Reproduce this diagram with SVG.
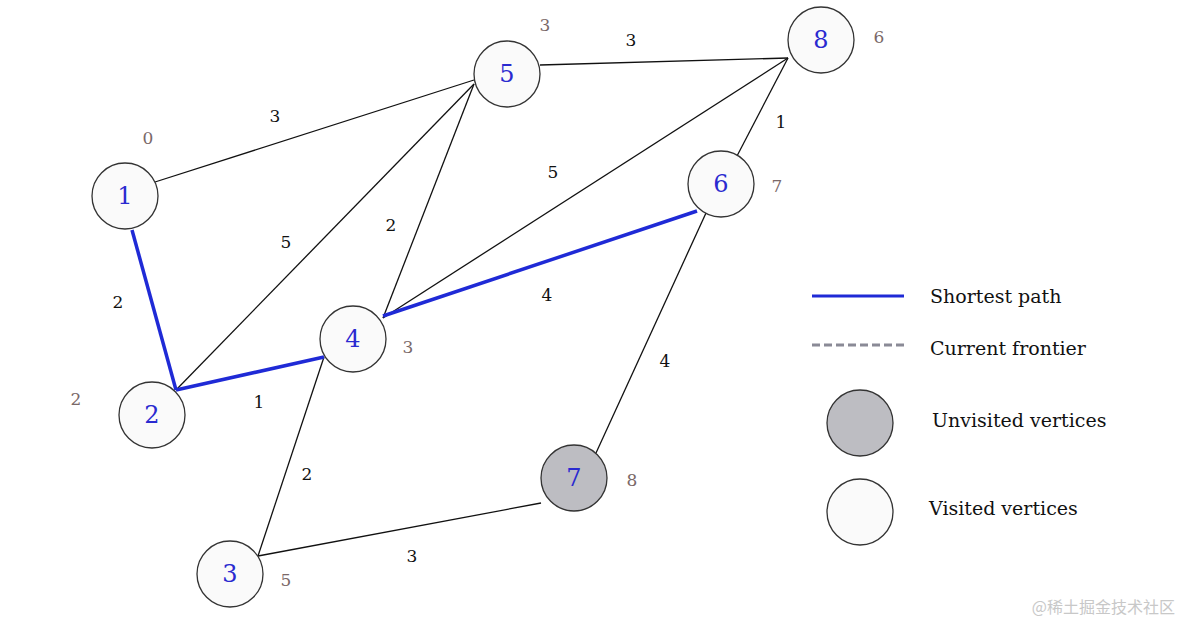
<svg xmlns="http://www.w3.org/2000/svg" width="1181" height="624" viewBox="0 0 1181 624">
<style>
.e{stroke:#111;stroke-width:1.3;fill:none}
.p{stroke:#1f2ad6;stroke-width:3.5;fill:none}
.n{fill:#fafafa;stroke:#333;stroke-width:1.3}
.g{fill:#bdbdc2;stroke:#333;stroke-width:1.3}
.t{font-family:"DejaVu Serif","Liberation Serif",serif;font-size:24px;fill:#2a2ad0;text-anchor:middle}
.w{font-family:"DejaVu Serif","Liberation Serif",serif;font-size:17px;fill:#111;text-anchor:middle}
.d{font-family:"DejaVu Serif","Liberation Serif",serif;font-size:17px;fill:#7a6868;text-anchor:middle}
.l{font-family:"DejaVu Serif","Liberation Serif",serif;font-size:19px;fill:#111}
</style>
<rect width="1181" height="624" fill="#fff"/>
<g id="connectors">
<line class="e" x1="155" y1="182" x2="474" y2="80"/>
<line class="e" x1="176" y1="390" x2="474" y2="84"/>
<line class="e" x1="383" y1="318" x2="474" y2="84"/>
<line class="e" x1="383" y1="318" x2="788" y2="58"/>
<line class="e" x1="540" y1="65" x2="788" y2="58"/>
<line class="e" x1="737" y1="156" x2="788" y2="58"/>
<line class="e" x1="596" y1="453" x2="706" y2="213"/>
<line class="e" x1="324" y1="357" x2="258" y2="556"/>
<line class="e" x1="258" y1="556" x2="541" y2="503"/>
<line class="p" x1="132" y1="230" x2="176" y2="390"/>
<line class="p" x1="176" y1="390" x2="324" y2="357"/>
<line class="p" x1="383" y1="316" x2="697" y2="211"/>
<text class="w" x="275" y="122">3</text>
<text class="w" x="286" y="248">5</text>
<text class="w" x="391" y="231">2</text>
<text class="w" x="553" y="178">5</text>
<text class="w" x="631" y="46">3</text>
<text class="w" x="781" y="128">1</text>
<text class="w" x="547" y="301">4</text>
<text class="w" x="118" y="308">2</text>
<text class="w" x="259" y="408">1</text>
<text class="w" x="665" y="367">4</text>
<text class="w" x="307" y="480">2</text>
<text class="w" x="412" y="562">3</text>
</g>
<g id="n1"><circle class="n" cx="125" cy="196" r="33"/><text class="t" x="125" y="204">1</text><text class="d" x="148" y="144">0</text></g>
<g id="n2"><circle class="n" cx="152" cy="415" r="33"/><text class="t" x="152" y="423">2</text><text class="d" x="76" y="405">2</text></g>
<g id="n3"><circle class="n" cx="230" cy="574" r="33"/><text class="t" x="230" y="582">3</text><text class="d" x="286" y="586">5</text></g>
<g id="n4"><circle class="n" cx="353" cy="339" r="33"/><text class="t" x="353" y="347">4</text><text class="d" x="408" y="353">3</text></g>
<g id="n5"><circle class="n" cx="507" cy="74" r="33"/><text class="t" x="507" y="82">5</text><text class="d" x="545" y="31">3</text></g>
<g id="n6"><circle class="n" cx="721" cy="184" r="33"/><text class="t" x="721" y="192">6</text><text class="d" x="777" y="192">7</text></g>
<g id="n7"><circle class="g" cx="574" cy="478" r="33"/><text class="t" x="574" y="486">7</text><text class="d" x="632" y="486">8</text></g>
<g id="n8"><circle class="n" cx="821" cy="40" r="33"/><text class="t" x="821" y="48">8</text><text class="d" x="879" y="43">6</text></g>
<g id="legend">
<line x1="812" y1="296" x2="904" y2="296" stroke="#1f2ad6" stroke-width="3"/>
<text class="l" x="930" y="303">Shortest path</text>
<line x1="812" y1="345" x2="904" y2="345" stroke="#8a8a96" stroke-width="3" stroke-dasharray="8,4"/>
<text class="l" x="930" y="355">Current frontier</text>
<circle class="g" cx="860" cy="423" r="33"/>
<text class="l" x="932" y="427">Unvisited vertices</text>
<circle class="n" cx="860" cy="512" r="33"/>
<text class="l" x="929" y="515">Visited vertices</text>
</g>
<text x="1175" y="613" font-family="'Noto Sans CJK SC',sans-serif" font-size="16" fill="#c8c8c8" text-anchor="end">@稀土掘金技术社区</text>
</svg>
